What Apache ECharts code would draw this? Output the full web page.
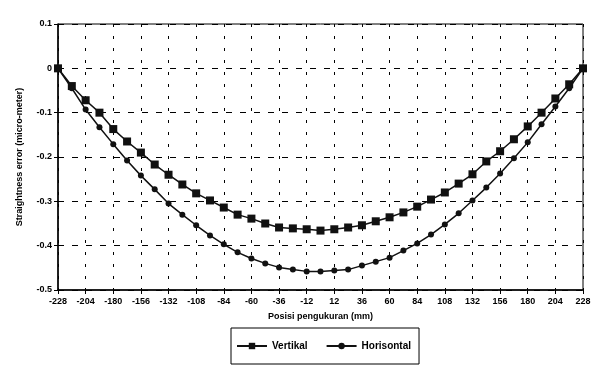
<!DOCTYPE html>
<html>
<head>
<meta charset="utf-8">
<script src="https://cdn.jsdelivr.net/npm/echarts@6/dist/echarts.min.js"></script>
<style>
    html, body { margin: 0; padding: 0; background: #fff; }
    #chart { width: 611px; height: 376px; }
</style>
</head>
<body>
<div id="chart"></div>
<script>
    // posisi pengukuran (mm), one point every 12 mm
    var posisi = [-228, -216, -204, -192, -180, -168, -156, -144, -132, -120, -108, -96, -84,
        -72, -60, -48, -36, -24, -12, 0, 12, 24, 36, 48, 60, 72, 84, 96, 108, 120, 132,
        144, 156, 168, 180, 192, 204, 216, 228];
    var vertikal = [0, -0.04, -0.072, -0.10, -0.137, -0.165, -0.19, -0.217, -0.24, -0.262,
        -0.282, -0.298, -0.314, -0.33, -0.339, -0.35, -0.359, -0.361, -0.363, -0.366,
        -0.363, -0.359, -0.354, -0.345, -0.336, -0.325, -0.312, -0.296, -0.28, -0.26,
        -0.239, -0.21, -0.187, -0.16, -0.131, -0.10, -0.068, -0.036, 0];
    var horisontal = [0, -0.045, -0.093, -0.133, -0.171, -0.208, -0.242, -0.273, -0.305,
        -0.33, -0.354, -0.377, -0.397, -0.415, -0.429, -0.44, -0.449, -0.454, -0.458,
        -0.458, -0.456, -0.454, -0.445, -0.436, -0.427, -0.411, -0.395, -0.375, -0.352,
        -0.327, -0.298, -0.269, -0.237, -0.203, -0.167, -0.126, -0.086, -0.045, 0];

    var font = 'Liberation Sans, Arial, sans-serif';
    var chart = echarts.init(document.getElementById('chart'));
    var option = {
        animation: false,
        textStyle: { fontFamily: font },
        grid: {
            left: 58, top: 24, right: 28, bottom: 86,
            show: true, borderColor: '#000', borderWidth: 1
        },
        legend: {
            orient: 'horizontal',
            left: 231, top: 328,
            padding: [13, 8, 13, 5],
            itemGap: 18, itemWidth: 30, itemHeight: 8,
            borderColor: '#000', borderWidth: 1,
            textStyle: { fontFamily: font, fontWeight: 'bold', fontSize: 10, color: '#000' },
            data: ['Vertikal', 'Horisontal']
        },
        xAxis: {
            type: 'category',
            boundaryGap: false,
            data: posisi.map(String),
            name: 'Posisi pengukuran (mm)',
            nameLocation: 'middle',
            nameGap: 22,
            nameTextStyle: { fontFamily: font, fontWeight: 'bold', fontSize: 9, color: '#000' },
            axisLine: { onZero: false, lineStyle: { color: '#000', width: 1.5 } },
            axisTick: { interval: 1, length: 4, lineStyle: { color: '#000' } },
            axisLabel: { interval: 1, margin: 7, fontFamily: font, fontWeight: 'bold', fontSize: 9, color: '#000' },
            splitLine: { show: true, interval: 1, lineStyle: { color: '#000', type: [3, 9], width: 1 } }
        },
        yAxis: {
            type: 'value',
            min: -0.5, max: 0.1, interval: 0.1,
            name: 'Straightness error (micro-meter)',
            nameLocation: 'middle',
            nameGap: 34,
            nameTextStyle: { fontFamily: font, fontWeight: 'bold', fontSize: 9, color: '#000' },
            axisLine: { show: true, lineStyle: { color: '#000', width: 1.5 } },
            axisTick: { show: true, length: 4, lineStyle: { color: '#000' } },
            axisLabel: { margin: 6, fontFamily: font, fontWeight: 'bold', fontSize: 9, color: '#000' },
            splitLine: { show: true, lineStyle: { color: '#000', type: [6, 8], width: 1 } }
        },
        series: [
            {
                name: 'Vertikal',
                type: 'line',
                data: vertikal,
                symbol: 'rect',
                symbolSize: 8,
                itemStyle: { color: '#111' },
                lineStyle: { color: '#111', width: 1.5 }
            },
            {
                name: 'Horisontal',
                type: 'line',
                data: horisontal,
                symbol: 'circle',
                symbolSize: 6,
                itemStyle: { color: '#111' },
                lineStyle: { color: '#111', width: 1.5 }
            }
        ]
    };
    chart.setOption(option);
    window.addEventListener('resize', chart.resize);
</script>
</body>
</html>
